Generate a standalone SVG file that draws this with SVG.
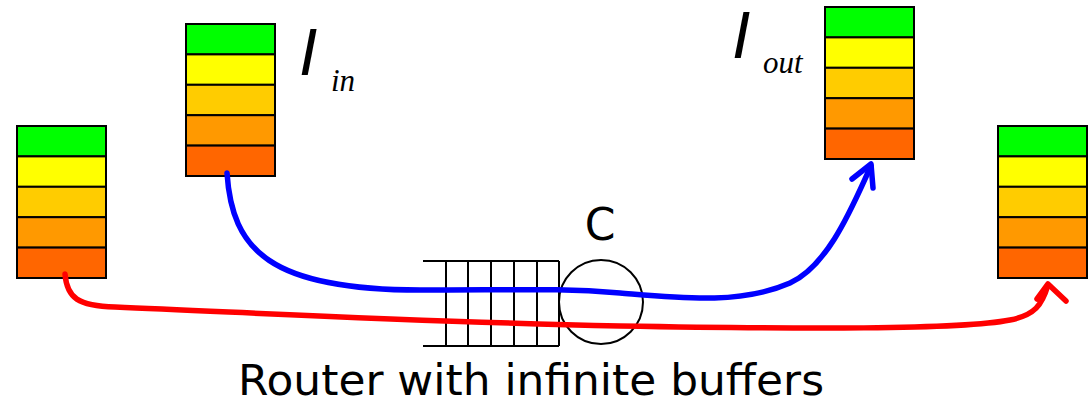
<svg xmlns="http://www.w3.org/2000/svg" width="1088" height="405" viewBox="0 0 1088 405">
<style>
.b{stroke:#000;stroke-width:2}
.c1{fill:#00FF00}.c2{fill:#FFFF00}.c3{fill:#FFCC00}.c4{fill:#FF9900}.c5{fill:#FF6600}
.rl{stroke:#000;stroke-width:2;fill:none}
.lab{font-family:"Liberation Serif","Times New Roman",serif;font-style:italic;fill:#000}
.big{font-family:"Liberation Sans",Arial,sans-serif;font-style:italic;fill:#000}
.sans{font-family:"DejaVu Sans",Tahoma,Verdana,sans-serif;fill:#000}
.flow{fill:none;stroke-width:5.5;stroke-linecap:round;stroke-linejoin:round}
</style>
<defs>
<g id="stack">
<rect class="b c1" x="0" y="0" width="89" height="30.4"/>
<rect class="b c2" x="0" y="30.4" width="89" height="30.4"/>
<rect class="b c3" x="0" y="60.8" width="89" height="30.4"/>
<rect class="b c4" x="0" y="91.2" width="89" height="30.4"/>
<rect class="b c5" x="0" y="121.6" width="89" height="30.4"/>
</g>
</defs>
<rect width="1088" height="405" fill="#fff"/>
<g id="stack-left"><use href="#stack" x="17" y="126"/></g>
<g id="stack-in"><use href="#stack" x="186" y="24"/>
<text class="big" x="299" y="75" font-size="66">I</text>
<text class="lab" x="331" y="91" font-size="31">in</text></g>
<g id="stack-out"><use href="#stack" x="825" y="7"/>
<text class="big" x="732" y="58" font-size="66">I</text>
<text class="lab" x="763" y="73" font-size="31">out</text></g>
<g id="stack-right"><use href="#stack" x="998" y="126"/></g>
<g id="router">
<line class="rl" x1="423" y1="261" x2="559" y2="261"/>
<line class="rl" x1="423" y1="346" x2="559" y2="346"/>
<line class="rl" x1="446" y1="261" x2="446" y2="346"/>
<line class="rl" x1="468" y1="261" x2="468" y2="346"/>
<line class="rl" x1="491" y1="261" x2="491" y2="346"/>
<line class="rl" x1="514" y1="261" x2="514" y2="346"/>
<line class="rl" x1="537" y1="261" x2="537" y2="346"/>
<line class="rl" x1="559" y1="261" x2="559" y2="346"/>
<circle class="rl" cx="601" cy="302" r="42"/>
<text class="sans" x="600" y="240" font-size="44" text-anchor="middle">C</text>
<text class="sans" x="238" y="395" font-size="43" textLength="586" lengthAdjust="spacingAndGlyphs">Router with infinite buffers</text>
</g>
<g id="connectors">
<path class="flow" stroke="#0000FF" d="M227,173 C232,250 270,290 420,290 C520,290 560,288 620,293 C680,298 740,305 790,283 C830,265 855,200 871,166"/>
<polyline class="flow" stroke="#0000FF" points="852,179 871,164 873,188"/>
<path class="flow" stroke="#FF0000" d="M65,274 C67,298 78,306 115,307 C260,313 420,322 620,326 C800,329 960,330 1010,320 C1035,315 1042,305 1048,285"/>
<polyline class="flow" stroke="#FF0000" points="1037,299 1048,284 1066,301"/>
</g>
</svg>
